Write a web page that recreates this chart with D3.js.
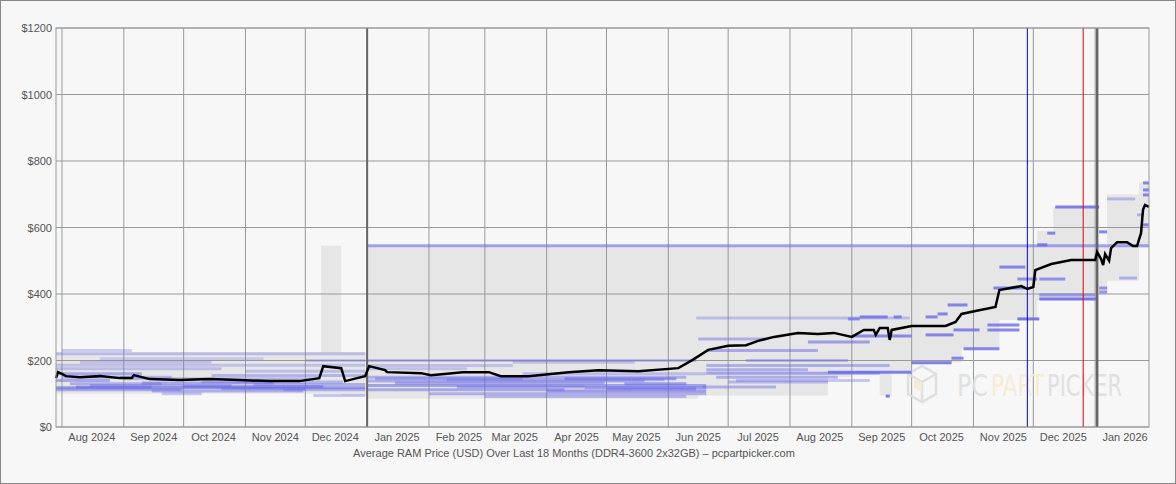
<!DOCTYPE html>
<html><head><meta charset="utf-8">
<script src="https://cdn.jsdelivr.net/npm/d3@7"></script>
<style>
body{margin:0;background:#f7f7f7;}
svg{display:block;font-family:"Liberation Sans",Arial,sans-serif;}
</style></head>
<body><div id="chart"></div>
<script>
// average price line (date, USD)
const avgDates = ["2024-07-29","2024-07-30","2024-08-01","2024-08-03","2024-08-10","2024-08-20","2024-08-30","2024-09-05","2024-09-06","2024-09-14","2024-09-29","2024-10-14","2024-10-29","2024-11-13","2024-11-28","2024-12-08","2024-12-10","2024-12-19","2024-12-21","2024-12-27","2024-12-31","2025-01-02","2025-01-10","2025-01-11","2025-01-28","2025-02-02","2025-02-18","2025-03-03","2025-03-09","2025-03-23","2025-04-12","2025-04-27","2025-05-17","2025-06-06","2025-06-13","2025-06-21","2025-07-01","2025-07-10","2025-07-16","2025-07-24","2025-08-05","2025-08-15","2025-08-23","2025-09-01","2025-09-07","2025-09-12","2025-09-13","2025-09-15","2025-09-19","2025-09-20","2025-09-21","2025-10-01","2025-10-18","2025-10-23","2025-10-26","2025-11-02","2025-11-12","2025-11-14","2025-11-25","2025-11-28","2025-12-01","2025-12-02","2025-12-10","2025-12-20","2026-01-01","2026-01-02","2026-01-04","2026-01-05","2026-01-06","2026-01-08","2026-01-09","2026-01-12","2026-01-17","2026-01-20","2026-01-22","2026-01-24","2026-01-25","2026-01-26","2026-01-28"];
const avgPrices = [147,165,160,153,150,153,147,147,156,144,141,144,141,138,138,147,183,177,138,147,153,183,171,165,162,156,165,165,153,153,165,171,168,177,201,232,244,246,259,271,283,280,283,271,292,292,277,298,298,262,292,304,304,316,340,349,361,412,424,415,421,472,490,502,502,526,505,487,520,500,538,556,556,544,544,583,653,668,662];

// min/max range band (step)
const bandDates = ["2024-07-29","2024-12-09","2024-12-19","2025-01-01","2025-06-16","2025-08-20","2025-09-01","2025-09-15","2025-09-21","2025-10-01","2025-10-26","2025-11-14","2025-12-03","2025-12-11","2026-01-02","2026-01-07","2026-01-23","2026-01-28"];
const bandLo = [100,100,95,85,95,150,168,95,168,195,237,322,382,382,410,440,540,540];
const bandHi = [225,545,225,545,545,545,545,545,545,545,545,545,590,662,545,700,735,735];

// individual listing prices: [from, to, price, opacity]
const listings = [
 ["2024-07-29","2024-12-31",220,0.35],["2024-07-29","2024-12-31",186,0.3],["2024-07-29","2024-10-20",175,0.35],
 ["2024-07-29","2024-09-10",160,0.5],["2024-07-29","2024-12-31",118,0.65],["2024-07-29","2024-08-25",140,0.5],
 ["2024-08-05","2024-09-20",130,0.45],["2024-09-10","2024-11-15",132,0.5],["2024-10-01","2024-12-10",122,0.55],
 ["2024-07-29","2024-09-30",112,0.5],["2024-09-15","2024-11-30",108,0.45],["2024-10-15","2024-12-31",155,0.4],
 ["2024-08-10","2024-10-15",195,0.3],["2024-08-01","2024-09-05",230,0.3],["2024-09-20","2024-10-10",100,0.35],
 ["2024-11-01","2024-12-31",168,0.35],["2024-11-20","2024-12-31",112,0.45],["2024-12-05","2024-12-31",95,0.35],
 ["2024-08-01","2024-09-25",150,0.4],["2024-08-15","2024-10-25",125,0.45],["2024-09-01","2024-12-05",145,0.35],
 ["2024-10-10","2024-12-20",135,0.4],["2024-08-20","2024-11-10",205,0.25],["2024-11-05","2024-12-31",128,0.45],
 ["2024-08-08","2024-09-15",120,0.55],["2024-10-20","2024-12-01",115,0.5],["2024-12-01","2024-12-31",200,0.3],
 ["2025-01-01","2026-01-28",545,0.6],["2025-01-01","2025-06-15",200,0.35],["2025-01-01","2025-03-15",185,0.3],
 ["2025-01-01","2025-06-10",150,0.45],["2025-01-01","2025-05-20",138,0.45],["2025-01-01","2025-06-20",125,0.55],
 ["2025-01-01","2025-04-10",112,0.5],["2025-02-01","2025-06-20",100,0.45],["2025-03-01","2025-06-10",92,0.4],
 ["2025-04-01","2025-06-20",108,0.6],["2025-04-20","2025-06-20",118,0.6],["2025-03-15","2025-05-15",195,0.3],
 ["2025-05-10","2025-06-10",130,0.6],["2025-01-05","2025-03-20",145,0.45],["2025-01-15","2025-04-30",132,0.5],
 ["2025-02-10","2025-05-30",142,0.4],["2025-01-01","2025-02-20",175,0.3],["2025-03-20","2025-06-20",160,0.35],
 ["2025-02-15","2025-04-20",120,0.5],["2025-04-10","2025-06-05",145,0.6],["2025-05-01","2025-06-15",115,0.55],
 ["2025-06-15","2025-09-30",328,0.35],["2025-06-16","2025-07-20",265,0.45],
 ["2025-06-20","2025-08-15",230,0.5],["2025-06-20","2025-09-20",185,0.45],["2025-06-20","2025-09-15",162,0.55],
 ["2025-06-25","2025-08-25",150,0.45],["2025-07-01","2025-08-20",135,0.4],["2025-06-18","2025-07-25",120,0.45],
 ["2025-07-10","2025-08-30",200,0.4],["2025-06-20","2025-08-10",172,0.45],["2025-07-05","2025-09-10",140,0.35],
 ["2025-08-10","2025-09-10",256,0.6],["2025-09-05","2025-09-19",331,0.8],
 ["2025-09-22","2025-09-26",331,0.8],["2025-08-30","2025-09-05",325,0.7],["2025-09-01","2025-10-01",274,0.75],
 ["2025-08-20","2025-10-01",165,0.85],["2025-10-01","2025-10-21",193,0.85],["2025-10-21","2025-10-27",207,0.8],
 ["2025-10-08","2025-10-22",277,0.8],["2025-10-22","2025-11-04",292,0.8],["2025-10-27","2025-11-14",235,0.8],
 ["2025-10-19","2025-10-29",367,0.8],["2025-10-08","2025-10-14",331,0.8],["2025-10-14","2025-10-19",340,0.8],
 ["2025-11-08","2025-11-24",307,0.8],["2025-11-08","2025-11-24",292,0.8],["2025-11-11","2025-11-27",418,0.8],
 ["2025-11-14","2025-11-27",481,0.8],["2025-11-23","2025-12-04",325,0.9],["2025-11-23","2025-12-03",445,0.7],
 ["2025-12-04","2026-01-02",385,0.9],["2025-12-04","2026-01-01",397,0.6],["2025-12-04","2025-12-17",445,0.7],
 ["2025-12-08","2025-12-12",583,0.8],["2025-12-03","2025-12-08",548,0.8],["2025-12-12","2026-01-03",662,0.85],
 ["2026-01-03","2026-01-07",587,0.8],["2026-01-07","2026-01-21",686,0.4],["2026-01-13","2026-01-22",448,0.45],
 ["2026-01-03","2026-01-07",418,0.7],["2026-01-03","2026-01-07",406,0.7],["2026-01-22","2026-01-25",638,0.45],
 ["2026-01-25","2026-01-28",734,0.8],["2026-01-25","2026-01-28",713,0.8],["2026-01-25","2026-01-28",698,0.8],
 ["2026-01-25","2026-01-28",608,0.8],["2025-09-18","2025-09-20",93,0.9]
];

// marker lines: [date, colour, width]
const markers = [["2025-01-01","#666",2],["2025-11-28","#0000dd",1],["2025-12-26","#dd0000",1],["2026-01-02","#666",2.5]];

const yTicks = [0,200,400,600,800,1000,1200];
const xTitle = "Average RAM Price (USD) Over Last 18 Months (DDR4-3600 2x32GB) \u2013 pcpartpicker.com";

const W = 1176, H = 484;
const m = {top:28, right:27, bottom:57, left:56};
const iw = W - m.left - m.right, ih = H - m.top - m.bottom;
const pd = d3.timeParse("%Y-%m-%d");

const svg = d3.select("#chart").append("svg").attr("width", W).attr("height", H);
svg.append("rect").attr("x",0.5).attr("y",0.5).attr("width",W-1).attr("height",H-1)
  .attr("fill","#f7f7f7").attr("stroke","#888");
const g = svg.append("g").attr("transform",`translate(${m.left},${m.top})`);

const x = d3.scaleTime().domain([pd("2024-07-29"), pd("2026-01-28")]).range([0, iw]);
const y = d3.scaleLinear().domain([0,1200]).range([ih,0]);

// range band
const band = bandDates.map((d,i)=>({d:pd(d), lo:bandLo[i], hi:bandHi[i]}));
g.append("path").datum(band)
  .attr("d", d3.area().curve(d3.curveStepAfter).x(d=>x(d.d)).y0(d=>y(d.lo)).y1(d=>y(d.hi)))
  .attr("fill","#e6e6e6");

// grid
const months = d3.timeMonth.range(pd("2024-08-01"), pd("2026-01-28"));
g.selectAll(".vg").data(months).join("line")
  .attr("x1",d=>x(d)).attr("x2",d=>x(d)).attr("y1",0).attr("y2",ih)
  .attr("stroke","#999").attr("stroke-width",1);
g.selectAll(".hg").data(yTicks).join("line")
  .attr("x1",0).attr("x2",iw).attr("y1",d=>y(d)).attr("y2",d=>y(d))
  .attr("stroke","#999").attr("stroke-width",1);

// watermark
const wm = g.append("g").attr("opacity",0.9);
const cx = 922 - m.left, cy = 384 - m.top;
wm.append("path").attr("d",`M${cx-14},${cy-10} L${cx},${cy-18} L${cx+14},${cy-10} L${cx+14},${cy+10} L${cx},${cy+18} L${cx-14},${cy+10} Z M${cx-14},${cy-10} L${cx},${cy-2} L${cx+14},${cy-10} M${cx},${cy-2} L${cx},${cy+18}`)
  .attr("fill","none").attr("stroke","#ddd").attr("stroke-width",2.5);
wm.append("path").attr("d",`M${cx-8},${cy-6} L${cx},${cy-2} L${cx},${cy+8} L${cx-8},${cy+4} Z`).attr("fill","#f5ecd0");
const wmParts = [["PC",957,31,"#dedede"],["PART",991,53,"#f5ecd0"],["PICKER",1047,75,"#dedede"]];
wm.selectAll(".wt").data(wmParts).join("text")
  .attr("x",d=>d[1]-m.left).attr("y",396-m.top).attr("font-size",30)
  .attr("font-family","'Liberation Sans Narrow','DejaVu Sans Condensed',sans-serif")
  .attr("textLength",d=>d[2]).attr("lengthAdjust","spacingAndGlyphs")
  .attr("fill",d=>d[3]).text(d=>d[0]);

// listing segments
g.selectAll(".seg").data(listings).join("line")
  .attr("x1",d=>x(pd(d[0]))).attr("x2",d=>x(pd(d[1])))
  .attr("y1",d=>y(d[2])).attr("y2",d=>y(d[2]))
  .attr("stroke","#6a6ae8").attr("stroke-opacity",d=>d[3]).attr("stroke-width",3);

// markers
g.selectAll(".mk").data(markers).join("line")
  .attr("x1",d=>x(pd(d[0]))).attr("x2",d=>x(pd(d[0]))).attr("y1",0).attr("y2",ih)
  .attr("stroke",d=>d[1]).attr("stroke-width",d=>d[2]);

// average line
g.append("path").datum(avgDates.map((d,i)=>({d:pd(d), v:avgPrices[i]})))
  .attr("d", d3.line().x(d=>x(d.d)).y(d=>y(d.v)))
  .attr("fill","none").attr("stroke","#000").attr("stroke-width",2.5);

// frame
g.append("rect").attr("width",iw).attr("height",ih).attr("fill","none").attr("stroke","#999");

// y labels
g.selectAll(".yl").data(yTicks).join("text")
  .attr("x",-4).attr("y",d=>y(d)+4).attr("text-anchor","end")
  .attr("font-size",11).attr("fill","#555").text(d=>"$"+d);

// month labels centred mid-month
g.selectAll(".xl").data(months).join("text")
  .attr("x",d=>x(d3.timeDay.offset(d,15))).attr("y",ih+14).attr("text-anchor","middle")
  .attr("font-size",11).attr("fill","#555").text(d3.timeFormat("%b %Y"));

svg.append("text").attr("x",574).attr("y",457).attr("text-anchor","middle")
  .attr("font-size",11).attr("fill","#555").text(xTitle);
</script></body></html>
